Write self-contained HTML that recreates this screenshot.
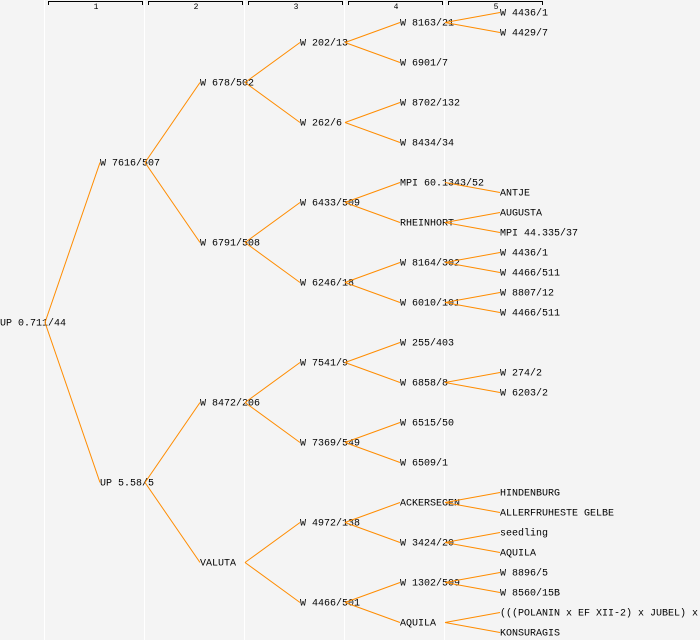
<!DOCTYPE html>
<html><head><meta charset="utf-8"><style>
html,body{margin:0;padding:0;background:#f4f4f4;}
svg{display:block}
text{font-family:"Liberation Mono",monospace;font-size:10px;fill:#000}
</style></head><body>
<svg id="s" width="700" height="640" xmlns="http://www.w3.org/2000/svg">
<rect width="700" height="640" fill="#f4f4f4"/>
<g stroke="#fff" stroke-width="1">
<line x1="44.5" y1="0" x2="44.5" y2="640"/><line x1="144.5" y1="0" x2="144.5" y2="640"/>
<line x1="244.5" y1="0" x2="244.5" y2="640"/><line x1="344.5" y1="0" x2="344.5" y2="640"/>
<line x1="444.5" y1="0" x2="444.5" y2="640"/>
</g>
<g id="br" fill="none" stroke="#000" stroke-width="1"></g>
<g id="tx"></g>
<g id="ln" stroke="#ff8c00" stroke-width="1" fill="none"></g>
</svg>
<script>
var NS="http://www.w3.org/2000/svg";
function el(p,n,a,t){var e=document.createElementNS(NS,n);for(var k in a)e.setAttribute(k,a[k]);if(t!==undefined)e.textContent=t;document.getElementById(p).appendChild(e);}
for(var i=0;i<5;i++){var x0=48+i*100,x1=142+i*100;
el("br","path",{d:"M"+(x0+.5)+" 5V1.5H"+(x1+.5)+"V5"});
el("tx","text",{x:(x0+x1)/2+1,y:9,"text-anchor":"middle","style":"font-size:8px"},String(i+1));}
var tree=["UP 0.711/44",
 [["W 7616/507",[["W 678/502",[["W 202/13",[["W 8163/21",["W 4436/1","W 4429/7"]],["W 6901/7",[]]]],
   ["W 262/6",[["W 8702/132",[]],["W 8434/34",[]]]]]],
  ["W 6791/508",[["W 6433/509",[["MPI 60.1343/52",["ANTJE"]],["RHEINHORT",["AUGUSTA","MPI 44.335/37"]]]],
   ["W 6246/18",[["W 8164/302",["W 4436/1","W 4466/511"]],["W 6010/101",["W 8807/12","W 4466/511"]]]]]]]],
 ["UP 5.58/5",[["W 8472/206",[["W 7541/9",[["W 255/403",[]],["W 6858/8",["W 274/2","W 6203/2"]]]],
   ["W 7369/549",[["W 6515/50",[]],["W 6509/1",[]]]]]],
  ["VALUTA",[["W 4972/138",[["ACKERSEGEN",["HINDENBURG","ALLERFRUHESTE GELBE"]],["W 3424/20",["seedling","AQUILA"]]]],
   ["W 4466/501",[["W 1302/509",["W 8896/5","W 8560/15B"]],["AQUILA",["(((POLANIN x EF XII-2) x JUBEL) x","KONSURAGIS"]]]]]]]]]];
function draw(node,depth,y0,h){
  var name=typeof node==="string"?node:node[0];var kids=typeof node==="string"?[]:node[1];
  var y=y0+h/2;var x=depth*100;
  el("tx","text",{x:x,y:y+3.5},name);
  if(kids.length){
    if(depth===4){
      var ys=kids.length===1?[y+10]:[y-10,y+10];
      kids.forEach(function(k,i){el("tx","text",{x:500,y:ys[i]+3.5},k);
        el("ln","line",{x1:x+45,y1:y+.5,x2:500,y2:ys[i]+.5});});
    } else {
      var ch=h/kids.length;
      kids.forEach(function(k,i){var cy=y0+ch*i+ch/2;
        el("ln","line",{x1:x+45,y1:y+.5,x2:x+100,y2:cy+.5});
        draw(k,depth+1,y0+ch*i,ch);});
    }
  }
}
draw(tree,0,2,640);
</script>
</body></html>
